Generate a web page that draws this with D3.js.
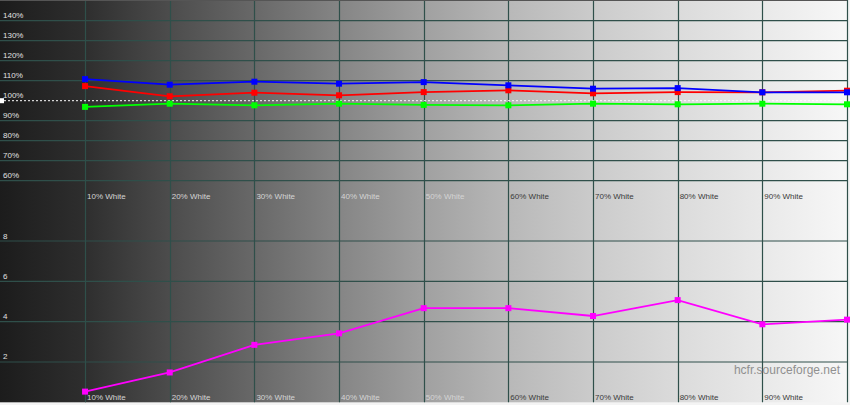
<!DOCTYPE html>
<html><head><meta charset="utf-8">
<script src="https://cdn.jsdelivr.net/npm/d3@7"></script>
<style>html,body{margin:0;padding:0;background:#fff;}svg{display:block;}</style>
</head><body>
<svg id="chart" width="850" height="405"></svg>
<script>
const categories = ["10% White","20% White","30% White","40% White","50% White","60% White","70% White","80% White","90% White","100% White"];
const levels = [10,20,30,40,50,60,70,80,90,100];
const redValues   = [107.3,102.2,104.0,102.7,104.3,105.2,103.7,104.3,104.2,105.0];
const greenValues = [96.9,98.5,97.7,98.5,97.9,97.7,98.5,98.2,98.5,98.2];
const blueValues  = [110.8,108.0,109.5,108.5,109.3,107.7,106.0,106.3,104.2,104.2];
const deltaE      = [0.53,1.48,2.85,3.42,4.67,4.67,4.28,5.07,3.87,4.10];
const topTicks = [60,70,80,90,100,110,120,130,140];
const topTickLabels = ["60%","70%","80%","90%","100%","110%","120%","130%","140%"];
const bottomTicks = [2,4,6,8];
const bottomTickLabels = ["2","4","6","8"];

const svg = d3.select("#chart");
const W = 847, H1top = 0.7, Hmid = 200.7, Hbot = 402.3;
const x = d3.scaleLinear().domain([0,100]).range([0.4, W]);
const yTop = d3.scaleLinear().domain([50,150]).range([Hmid, H1top]);
const yBot = d3.scaleLinear().domain([0,10]).range([Hbot, Hmid]);

// background gradient
const defs = svg.append("defs");
const grad = defs.append("linearGradient").attr("id","bg").attr("x1",0).attr("x2",1).attr("y1",0).attr("y2",0);
const stops = ["#1c1c1c","#2e2e2e","#4c4c4c","#686868","#858585","#a0a0a0","#b8b8b8","#cbcbcb","#dbdbdb","#e9e9e9","#f7f7f7"];
stops.forEach((c,i)=>grad.append("stop").attr("offset",(i/10)).attr("stop-color",c));
svg.append("rect").attr("x",0).attr("y",0).attr("width",850).attr("height",405).attr("fill","#f4f4f4");
svg.append("rect").attr("x",0).attr("y",0).attr("width",W).attr("height",Hbot).attr("fill","url(#bg)");

const gridColor = "#2f4f4a";
// vertical grid lines
svg.append("g").selectAll("line").data(levels).join("line")
  .attr("x1",d=>Math.round(x(d))+0.5).attr("x2",d=>Math.round(x(d))+0.5)
  .attr("y1",0).attr("y2",Hbot)
  .attr("stroke",gridColor).attr("stroke-width",1.2);
// top horizontal grid
svg.append("g").selectAll("line").data(topTicks.filter(d=>d!==100)).join("line")
  .attr("x1",0).attr("x2",W)
  .attr("y1",d=>yTop(d)).attr("y2",d=>yTop(d))
  .attr("stroke",gridColor).attr("stroke-width",1.2);
svg.append("line").attr("x1",0).attr("x2",W).attr("y1",0.5).attr("y2",0.5).attr("stroke","#555").attr("stroke-width",1);
// bottom horizontal grid
svg.append("g").selectAll("line").data(bottomTicks).join("line")
  .attr("x1",0).attr("x2",W)
  .attr("y1",d=>yBot(d)).attr("y2",d=>yBot(d))
  .attr("stroke",gridColor).attr("stroke-width",1.2);

// 100% dotted reference
svg.append("line").attr("x1",0).attr("x2",W).attr("y1",yTop(100)).attr("y2",yTop(100))
  .attr("stroke","#ffffff").attr("stroke-width",1).attr("stroke-dasharray","2,2");
svg.append("rect").attr("x",0).attr("y",yTop(100)-2.5).attr("width",4).attr("height",5).attr("fill","#ffffff");

// y tick labels
svg.append("g").selectAll("text").data(topTicks).join("text")
  .attr("x",3).attr("y",d=>yTop(d)-2.5)
  .attr("font-family","Arial, 'Liberation Sans', sans-serif").attr("font-size",8)
  .attr("fill","#e0e0e0").text((d,i)=>topTickLabels[i]);
svg.append("g").selectAll("text").data(bottomTicks).join("text")
  .attr("x",3).attr("y",d=>yBot(d)-2.5)
  .attr("font-family","Arial, 'Liberation Sans', sans-serif").attr("font-size",8)
  .attr("fill","#e0e0e0").text((d,i)=>bottomTickLabels[i]);

// category labels
const labelData = levels.slice(0,9).map((d,i)=>({lv:d, name:categories[i]}));
[Hmid-2, Hbot-2].forEach(yy=>{
  svg.append("g").selectAll("text").data(labelData).join("text")
    .attr("x",d=>x(d.lv)+2).attr("y",yy)
    .attr("font-family","Arial, 'Liberation Sans', sans-serif").attr("font-size",8)
    .attr("fill",d=>d.lv<=50 ? "#d4d4d4" : "#3a3a3a").text(d=>d.name);
});

// series
function drawSeries(vals, yScale, color){
  const pts = vals.map((v,i)=>[x(levels[i]), yScale(v)]);
  svg.append("path").attr("d", d3.line()(pts)).attr("fill","none")
    .attr("stroke",color).attr("stroke-width",1.8);
  svg.append("g").selectAll("rect").data(pts).join("rect")
    .attr("x",p=>p[0]-3).attr("y",p=>p[1]-3).attr("width",6).attr("height",6).attr("fill",color);
}
drawSeries(greenValues, yTop, "#00ff00");
drawSeries(redValues, yTop, "#ff0000");
drawSeries(blueValues, yTop, "#0000ff");
drawSeries(deltaE, yBot, "#ff00ff");

// watermark
svg.append("text").attr("x",840).attr("y",374).attr("text-anchor","end")
  .attr("font-family","Arial, 'Liberation Sans', sans-serif").attr("font-size",12)
  .attr("fill","#909090").text("hcfr.sourceforge.net");
</script>
</body></html>
